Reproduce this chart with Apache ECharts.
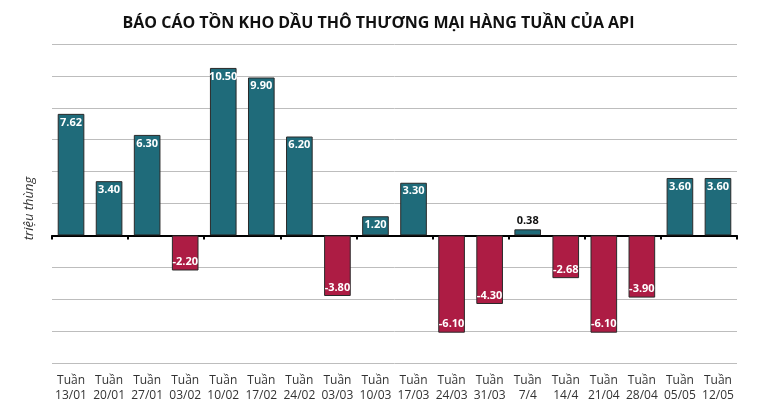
<!DOCTYPE html>
<html lang="vi">
<head>
    <meta charset="UTF-8">
    <title>Tồn kho dầu thô API</title>
    <script src="https://cdn.jsdelivr.net/npm/echarts@6/dist/echarts.min.js"></script>
    <style>
        html, body { margin: 0; padding: 0; background: #fff; }
        #main { width: 757px; height: 412px; }
    </style>
</head>
<body>
<div id="main"></div>
<script>
    // tuần báo cáo
    const weeks = ['13/01', '20/01', '27/01', '03/02', '10/02', '17/02', '24/02', '03/03', '10/03', '17/03',
        '24/03', '31/03', '7/4', '14/4', '21/04', '28/04', '05/05', '12/05'];
    // thay đổi tồn kho (triệu thùng)
    const changes = [7.62, 3.40, 6.30, -2.20, 10.50, 9.90, 6.20, -3.80, 1.20, 3.30,
        -6.10, -4.30, 0.38, -2.68, -6.10, -3.90, 3.60, 3.60];

    const UP = '#1f6b7a', DOWN = '#ad1c44';

    const barData = changes.map(function (v) {
        let lbl;
        if (v < 0) {
            lbl = { position: 'insideBottom' };
        } else if (v < 1) {
            lbl = { position: 'top', color: '#111' };
        } else {
            lbl = { position: 'insideTop' };
        }
        return {
            value: v,
            itemStyle: { color: v < 0 ? DOWN : UP },
            label: lbl
        };
    });

    const myChart = echarts.init(document.getElementById('main'));
    myChart.setOption({
        animation: false,
        title: {
            text: 'BÁO CÁO TỒN KHO DẦU THÔ THƯƠNG MẠI HÀNG TUẦN CỦA API',
            left: 'center',
            top: 10,
            textStyle: { fontFamily: 'Open Sans', fontSize: 16, fontWeight: 'bold', color: '#111' }
        },
        grid: { left: 52, right: 20, top: 44, bottom: 49, outerBoundsMode: 'none' },
        xAxis: [{
            // trục ở mức 0: chỉ có đường và vạch
            type: 'category',
            data: weeks,
            axisLine: { onZero: true, lineStyle: { color: '#000', width: 2 } },
            axisTick: { show: true, length: 4, lineStyle: { color: '#000', width: 2 } },
            axisLabel: { show: false }
        }, {
            // nhãn tuần ở đáy
            type: 'category',
            position: 'bottom',
            data: weeks.map(function (w) { return 'Tuần\n' + w; }),
            axisLine: { show: false, onZero: false },
            axisTick: { show: false },
            axisLabel: {
                interval: 0,
                margin: 10,
                fontFamily: 'Open Sans',
                fontSize: 12,
                lineHeight: 15,
                color: '#333'
            }
        }],
        yAxis: {
            type: 'value',
            min: -8,
            max: 12,
            interval: 2,
            name: 'triệu thùng',
            nameLocation: 'middle',
            nameGap: 16,
            nameTextStyle: { fontFamily: 'Open Sans', fontStyle: 'italic', fontSize: 13, color: '#333', padding: [0, 10, 0, 0] },
            axisLabel: { show: false },
            axisLine: { show: false },
            axisTick: { show: false },
            splitLine: { lineStyle: { color: '#bdbdbd', width: 1 } }
        },
        series: [{
            type: 'bar',
            xAxisIndex: 0,
            data: barData,
            barWidth: '70%',
            itemStyle: { borderColor: '#2a2a2a', borderWidth: 1 },
            label: {
                show: true,
                formatter: function (p) { return p.value.toFixed(2); },
                color: '#fff',
                fontFamily: 'Open Sans',
                fontWeight: 'bold',
                fontSize: 11,
                distance: 3
            }
        }]
    });
</script>
</body>
</html>
